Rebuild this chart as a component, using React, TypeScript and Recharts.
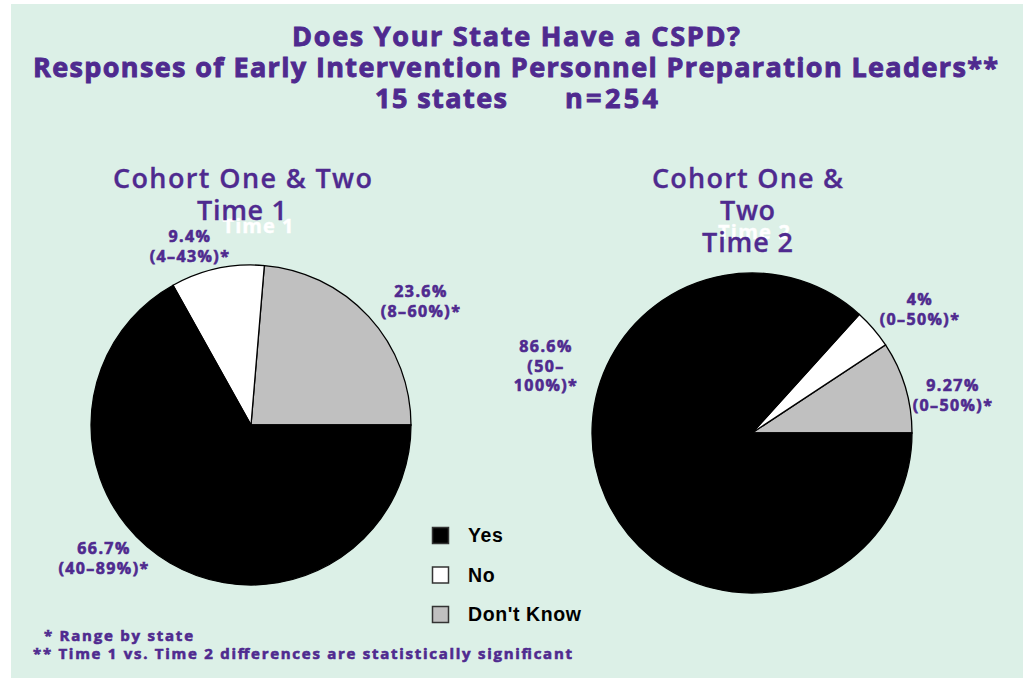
import React from "react";
import { PieChart, Pie, Cell } from "recharts";

// Share of responses per category (percent), listed as Yes / No / Don't Know
const categories = ["Yes", "No", "Don't Know"];
const time1Values = [66.7, 9.4, 23.6];
const time2Values = [86.6, 4, 9.27];
const time1Ranges = ["40–89%", "4–43%", "8–60%"];
const time2Ranges = ["50–100%", "0–50%", "0–50%"];
const sliceColors = ["#000000", "#ffffff", "#c0c0c0"];

const titleLines = [
  "Does Your State Have a CSPD?",
  "Responses of Early Intervention Personnel Preparation Leaders**",
];
const statesText = "15 states";
const sampleText = "n=254";
const footnotes = [
  "* Range by state",
  "** Time 1 vs. Time 2 differences are statistically significant",
];

const PURPLE = "#4f2a8f";
const BG = "#dcf0e7";
const TITLE_FONT = "'Open Sans', Lato, sans-serif";
const LEGEND_FONT = "'Liberation Sans', Arial, sans-serif";

// slices start at 3 o'clock and run counter-clockwise: Don't Know, No, Yes
const toPieData = (values: number[]) =>
  [2, 1, 0].map((i) => ({ name: categories[i], value: values[i], color: sliceColors[i] }));

const time1Data = toPieData(time1Values);
const time2Data = toPieData(time2Values);

// where each value label sits (center x, first baseline), by category index
const time1LabelPos = [
  { x: 103, y: 554 },
  { x: 189, y: 242 },
  { x: 420, y: 297 },
];
const time2LabelPos = [
  { x: 545, y: 352 },
  { x: 919, y: 305 },
  { x: 952, y: 391 },
];

function labelLines(value: number, range: string, wrap: boolean) {
  if (!wrap) return [`${value}%`, `(${range})*`];
  const [lo, hi] = range.split("–");
  return [`${value}%`, `(${lo}–`, `${hi})*`];
}

function ValueLabels({ values, ranges, pos, wrapFirst }: {
  values: number[];
  ranges: string[];
  pos: { x: number; y: number }[];
  wrapFirst?: boolean;
}) {
  return (
    <>
      {values.map((v, i) =>
        labelLines(v, ranges[i], !!wrapFirst && i === 0).map((l, j) => (
          <text
            key={`${i}-${j}`}
            x={pos[i].x + 1}
            y={pos[i].y + j * 19.5}
            textAnchor="middle"
            fill={PURPLE}
            stroke={PURPLE}
            strokeWidth={0.6}
            fontFamily={TITLE_FONT}
            fontWeight={700}
            fontSize={16}
            letterSpacing={1.4}
          >
            {l}
          </text>
        ))
      )}
    </>
  );
}

// single-line heading stretched to a set width
function Heading({ x, y, size, weight, width, fill = PURPLE, bold = 0.9, children }: {
  x: number;
  y: number;
  size: number;
  weight: number;
  width: number;
  fill?: string;
  bold?: number;
  children: React.ReactNode;
}) {
  return (
    <text
      x={x}
      y={y}
      fontSize={size}
      fontWeight={weight}
      fontFamily={TITLE_FONT}
      fill={fill}
      stroke={fill}
      strokeWidth={bold}
      textAnchor="middle"
      textLength={width}
      lengthAdjust="spacing"
    >
      {children}
    </text>
  );
}

export default function App() {
  return (
    <div style={{ position: "absolute", left: 0, top: 0, width: 1023, height: 681, background: "#ffffff" }}>
      <div style={{ position: "absolute", left: 11, top: 4, width: 1012, height: 674, background: BG }} />
      <div style={{ position: "absolute", left: 0, top: 0 }}>
        <PieChart width={1023} height={681} margin={{ top: 0, right: 0, bottom: 0, left: 0 }}>
          <Pie
            data={time1Data}
            dataKey="value"
            cx={251}
            cy={425}
            outerRadius={160}
            startAngle={0}
            endAngle={360}
            stroke="#000000"
            strokeWidth={1.3}
            isAnimationActive={false}
          >
            {time1Data.map((d) => (
              <Cell key={d.name} fill={d.color} />
            ))}
          </Pie>
          <Pie
            data={time2Data}
            dataKey="value"
            cx={752}
            cy={433}
            outerRadius={160}
            startAngle={0}
            endAngle={360}
            stroke="#000000"
            strokeWidth={1.3}
            isAnimationActive={false}
          >
            {time2Data.map((d) => (
              <Cell key={d.name} fill={d.color} />
            ))}
          </Pie>
        </PieChart>
      </div>
      <svg width={1023} height={681} style={{ position: "absolute", left: 0, top: 0, pointerEvents: "none" }}>
        <Heading x={516} y={46} size={27} weight={700} width={448}>{titleLines[0]}</Heading>
        <Heading x={515.5} y={77} size={27} weight={700} width={965}>{titleLines[1]}</Heading>
        <Heading x={441} y={108} size={27} weight={700} width={132}>{statesText}</Heading>
        <Heading x={611.5} y={108} size={27} weight={700} width={93}>{sampleText}</Heading>

        {/* faint white captions sitting behind the cohort headings */}
        <Heading x={258} y={233} size={20} weight={700} width={71} fill="#ffffff" bold={0.4}>Time 1</Heading>
        <Heading x={754} y={239} size={20} weight={700} width={72} fill="#ffffff" bold={0.4}>Time 2</Heading>

        <Heading x={242.5} y={188} size={27} weight={600} width={259} bold={0.3}>Cohort One &amp; Two</Heading>
        <Heading x={242} y={220} size={27} weight={600} width={90} bold={0.3}>Time 1</Heading>
        <Heading x={747.5} y={188} size={27} weight={600} width={191} bold={0.3}>Cohort One &amp;</Heading>
        <Heading x={747.5} y={220} size={27} weight={600} width={55} bold={0.3}>Two</Heading>
        <Heading x={747.5} y={252} size={27} weight={600} width={91} bold={0.3}>Time 2</Heading>

        <ValueLabels values={time1Values} ranges={time1Ranges} pos={time1LabelPos} />
        <ValueLabels values={time2Values} ranges={time2Ranges} pos={time2LabelPos} wrapFirst />

        {/* legend */}
        {categories.map((c, i) => (
          <g key={c}>
            <rect
              x={432.5}
              y={527.5 + i * 39.5}
              width={16}
              height={16}
              fill={sliceColors[i]}
              stroke="#333333"
              strokeWidth={1.5}
            />
            <text
              x={468}
              y={542 + i * 39.5}
              fontFamily={LEGEND_FONT}
              fontWeight={700}
              fontSize={19.5}
              letterSpacing={0.6}
              fill="#000000"
            >
              {c}
            </text>
          </g>
        ))}

        <Heading x={118.5} y={641} size={15} weight={700} width={149} bold={0.6}>{footnotes[0]}</Heading>
        <Heading x={302.5} y={659} size={15} weight={700} width={539} bold={0.6}>{footnotes[1]}</Heading>
      </svg>
    </div>
  );
}
